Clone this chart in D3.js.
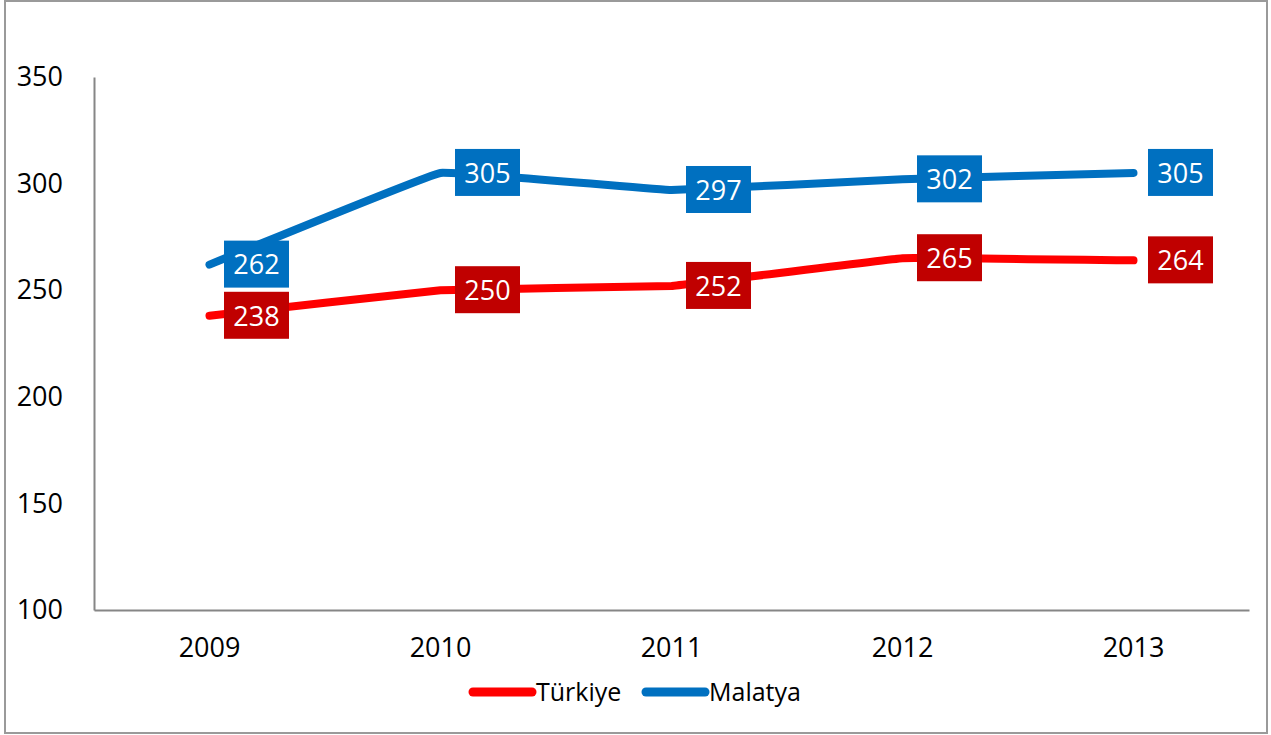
<!DOCTYPE html>
<html>
<head>
<meta charset="utf-8">
<script src="https://cdn.jsdelivr.net/npm/d3@7"></script>
<style>
  body { margin: 0; background: #fff; }
  svg { display: block; font-family: "Open Sans", "Liberation Sans", sans-serif; }
</style>
</head>
<body>
<div id="chart"></div>
<script>
var years = ["2009", "2010", "2011", "2012", "2013"];
var turkiye = [238, 250, 252, 265, 264];
var malatya = [262, 305, 297, 302, 305];
var yTicks = [100, 150, 200, 250, 300, 350];

var series = [
  {name: "Türkiye", values: turkiye, line: "#ff0000", box: "#c00000"},
  {name: "Malatya", values: malatya, line: "#0070c0", box: "#0070c0"}
];

var width = 1271,
    height = 735,
    margin = {top: 77, right: 22, bottom: 125, left: 94};

var svg = d3.select("#chart").append("svg")
    .attr("width", width)
    .attr("height", height);

// outer frame
svg.append("rect")
    .attr("x", 5).attr("y", 1)
    .attr("width", 1262).attr("height", 732)
    .attr("fill", "none")
    .attr("stroke", "#9a9a9a")
    .attr("stroke-width", 2);

var x = d3.scaleBand()
    .domain(years)
    .range([margin.left, width - margin.right]);

var y = d3.scaleLinear()
    .domain([100, 350])
    .range([height - margin.bottom, margin.top]);

var cx = function(d, i) { return x(years[i]) + x.bandwidth() / 2; };

// axes
var yAxis = svg.append("g")
    .attr("transform", "translate(" + margin.left + ",0)")
    .call(d3.axisLeft(y).tickValues(yTicks).tickSize(0).tickPadding(31));
yAxis.select(".domain").attr("stroke", "#868686").attr("stroke-width", 2);
yAxis.selectAll("text")
    .attr("fill", "#000")
    .style("font-size", "27px")
    .style("font-family", "'Open Sans', sans-serif");

var xAxis = svg.append("g")
    .attr("transform", "translate(0," + (height - margin.bottom) + ")")
    .call(d3.axisBottom(x).tickSize(0).tickPadding(28));
xAxis.select(".domain").attr("stroke", "#868686").attr("stroke-width", 2);
xAxis.selectAll("text")
    .attr("fill", "#000")
    .style("font-size", "27px")
    .style("font-family", "'Open Sans', sans-serif");

// lines, only slightly rounded at the joints
var line = d3.line()
    .curve(d3.curveCardinal.tension(0.85))
    .x(cx)
    .y(function(d) { return y(d); });

svg.selectAll("path.series")
  .data(series).enter()
  .append("path")
    .attr("class", "series")
    .attr("d", function(s) { return line(s.values); })
    .attr("fill", "none")
    .attr("stroke", function(s) { return s.line; })
    .attr("stroke-width", 8)
    .attr("stroke-linecap", "round")
    .attr("stroke-linejoin", "round");

// data labels
series.forEach(function(s) {
  var g = svg.append("g").selectAll("g")
    .data(s.values).enter()
    .append("g")
      .attr("transform", function(d, i) { return "translate(" + (cx(d, i) + 14.5) + "," + y(d) + ")"; });
  g.append("rect")
    .attr("x", 0).attr("y", -24)
    .attr("width", 65).attr("height", 47)
    .attr("fill", s.box);
  g.append("text")
    .attr("x", 32.5).attr("y", 0)
    .attr("dy", "0.36em")
    .attr("text-anchor", "middle")
    .attr("fill", "#fff")
    .style("font-size", "27px")
    .text(function(d) { return d; });
});

// legend
var legend = svg.append("g")
    .attr("transform", "translate(473,692)");
var items = legend.selectAll("g")
  .data(series).enter()
  .append("g")
    .attr("transform", function(d, i) { return "translate(" + (i * 173) + ",0)"; });
items.append("line")
    .attr("x1", 0).attr("x2", 59)
    .attr("stroke", function(d) { return d.line; })
    .attr("stroke-width", 9)
    .attr("stroke-linecap", "round");
items.append("text")
    .attr("x", 63)
    .attr("dy", "0.35em")
    .attr("fill", "#000")
    .style("font-size", "25px")
    .text(function(d) { return d.name; });
</script>
</body>
</html>
